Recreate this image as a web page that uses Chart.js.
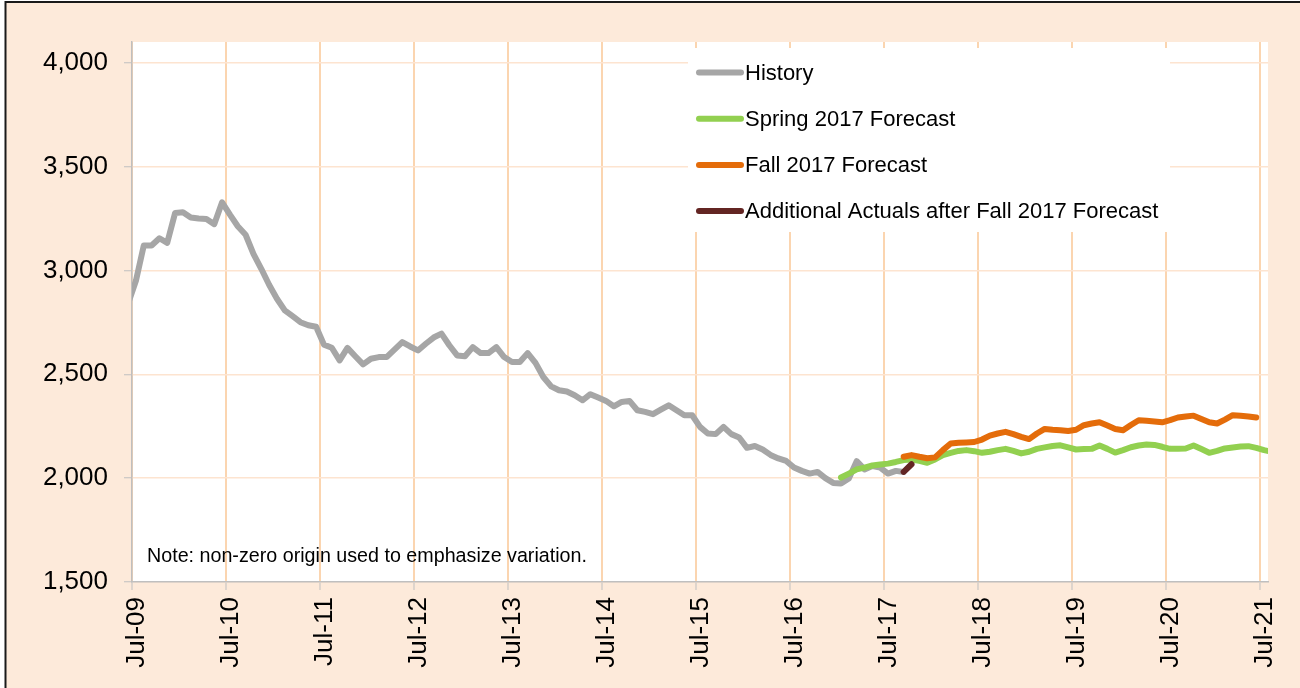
<!DOCTYPE html>
<html>
<head>
<meta charset="utf-8">
<script src="https://cdn.jsdelivr.net/npm/chart.js@4.4.1/dist/chart.umd.min.js"></script>
<style>
  html, body { margin: 0; padding: 0; background: #fff; }
  #wrap { width: 1300px; height: 688px; }
</style>
</head>
<body>
<div id="wrap"><canvas id="fig" width="1300" height="688"></canvas></div>
<script>
// x is counted in months from the start of Jul-09; each monthly value sits mid-month
const xTickLabels = ['Jul-09', 'Jul-10', 'Jul-11', 'Jul-12', 'Jul-13', 'Jul-14', 'Jul-15',
  'Jul-16', 'Jul-17', 'Jul-18', 'Jul-19', 'Jul-20', 'Jul-21'];
const yTicks = [1500, 2000, 2500, 3000, 3500, 4000];

const historyStart = 'Jun-09';
const historyValues = [
  2840, 2950, 3120, 3120, 3155, 3133, 3277, 3280, 3255, 3250, 3248, 3223, 3328,
  3269, 3213, 3172, 3080, 3008, 2931, 2864, 2808, 2780, 2751, 2736, 2729,
  2643, 2628, 2567, 2627, 2587, 2548, 2575, 2583, 2583, 2619, 2655, 2634,
  2615, 2647, 2677, 2696, 2640, 2591, 2587, 2631, 2602, 2602, 2631, 2583,
  2559, 2559, 2602, 2555, 2487, 2442, 2423, 2417, 2399, 2375, 2404, 2388,
  2372, 2346, 2367, 2372, 2327, 2319, 2308, 2330, 2351, 2327, 2303, 2303,
  2247, 2215, 2212, 2247, 2212, 2196, 2146, 2155, 2138, 2112, 2095, 2083,
  2051, 2035, 2022, 2030, 2000, 1977, 1974, 1998, 2082, 2042, 2058, 2051,
  2022, 2035, 2030
];

const spring2017Start = 'Jan-17';
const spring2017Values = [
  2003, 2022, 2042, 2051, 2061, 2066, 2070, 2078, 2087, 2090, 2083, 2074,
  2090, 2111, 2122, 2131, 2135, 2130, 2122, 2127, 2135, 2141, 2131, 2119,
  2127, 2141, 2148, 2155, 2158, 2148, 2138, 2140, 2141, 2157, 2141, 2123,
  2135, 2149, 2157, 2162, 2160, 2151, 2141, 2141, 2143, 2157, 2140, 2122,
  2131, 2143, 2148, 2152, 2154, 2146, 2135, 2127
];

const fall2017Start = 'Sep-17';
const fall2017Values = [
  2103, 2111, 2103, 2096, 2100, 2135, 2167, 2170, 2172, 2174,
  2186, 2205, 2215, 2223, 2212, 2199, 2188, 2215, 2237, 2233,
  2231, 2227, 2233, 2255, 2263, 2269, 2253, 2237, 2231, 2256,
  2279, 2276, 2273, 2269, 2279, 2292, 2297, 2301, 2285, 2269,
  2263, 2282, 2303, 2300, 2297, 2292
];

const actualsStart = 'Sep-17';
const actualsValues = [2030, 2067];

const noteText = 'Note: non-zero origin used to emphasize variation.';

const MONTHS = ['Jan', 'Feb', 'Mar', 'Apr', 'May', 'Jun', 'Jul', 'Aug', 'Sep', 'Oct', 'Nov', 'Dec'];
function monthIndex(label) {
  const [m, yy] = label.split('-');
  return (Number(yy) - 9) * 12 + MONTHS.indexOf(m) - 6;
}
function toPoints(start, values) {
  const s = monthIndex(start);
  return values.map((v, i) => ({ x: s + i + 0.5, y: v }));
}

const FONT = "'Liberation Sans', Arial, sans-serif";
Chart.defaults.font.family = FONT;
Chart.defaults.color = '#000';

// peach frame, black top/left edge and white plot area
const frame = {
  id: 'frame',
  beforeDraw(chart) {
    const { ctx, chartArea: a, width, height } = chart;
    ctx.save();
    ctx.fillStyle = '#fff';
    ctx.fillRect(0, 0, width, height);
    ctx.fillStyle = '#FDEADA';
    ctx.fillRect(6, 3, width, height);
    ctx.strokeStyle = '#1a1a1a';
    ctx.lineWidth = 2;
    ctx.beginPath();
    ctx.moveTo(5.5, height); ctx.lineTo(5.5, 2); ctx.lineTo(width, 2);
    ctx.stroke();
    ctx.fillStyle = '#fff';
    ctx.fillRect(a.left, a.top, a.right - a.left, a.bottom - a.top);
    ctx.restore();
  }
};

// legend box inside the plot, covering the grid; plus the note
const boxLegend = {
  id: 'boxLegend',
  beforeDatasetsDraw(chart) {
    const { ctx } = chart;
    ctx.save();
    ctx.fillStyle = '#fff';
    ctx.fillRect(688, 48, 482, 184);
    ctx.font = '22px ' + FONT;
    ctx.textBaseline = 'middle';
    ctx.lineCap = 'round';
    chart.data.datasets.forEach((ds, i) => {
      const y = 72.5 + i * 46.2;
      ctx.strokeStyle = ds.borderColor;
      ctx.lineWidth = 6;
      ctx.beginPath(); ctx.moveTo(699, y); ctx.lineTo(741, y); ctx.stroke();
      ctx.fillStyle = '#000';
      ctx.fillText(ds.label, 745, y + 1);
    });
    ctx.restore();
  },
  afterDatasetsDraw(chart) {
    const { ctx } = chart;
    ctx.save();
    ctx.font = '19.7px ' + FONT;
    ctx.fillStyle = '#000';
    ctx.textBaseline = 'middle';
    ctx.fillText(noteText, 147, 557);
    ctx.restore();
  }
};

new Chart(document.getElementById('fig'), {
  type: 'line',
  data: {
    datasets: [
      { label: 'History', data: toPoints(historyStart, historyValues), borderColor: '#A6A6A6', order: 4 },
      { label: 'Spring 2017 Forecast', data: toPoints(spring2017Start, spring2017Values), borderColor: '#92D050', order: 3 },
      { label: 'Fall 2017 Forecast', data: toPoints(fall2017Start, fall2017Values), borderColor: '#E46C0A', order: 2 },
      { label: 'Additional Actuals after Fall 2017 Forecast', data: toPoints(actualsStart, actualsValues), borderColor: '#632523', order: 1 }
    ]
  },
  options: {
    responsive: false,
    animation: false,
    events: [],
    layout: { padding: { left: 0, top: 42, right: 32, bottom: 0 } },
    elements: {
      point: { radius: 0 },
      line: { borderWidth: 6, tension: 0, borderCapStyle: 'round', borderJoinStyle: 'round', fill: false }
    },
    datasets: { line: { clip: 0 } },
    plugins: { legend: { display: false }, tooltip: { enabled: false } },
    scales: {
      x: {
        type: 'linear', min: 0, max: 145,
        afterBuildTicks: s => { s.ticks = xTickLabels.map((_, i) => ({ value: i * 12 })); },
        afterFit: s => { s.height = 106; s.paddingLeft = 0; s.paddingRight = 0; },
        ticks: { callback: (v, i) => xTickLabels[i], autoSkip: false, minRotation: 90, maxRotation: 90,
          font: { size: 26 }, color: '#000', padding: 7, labelOffset: 5 },
        grid: { color: '#FBD5B0', lineWidth: 2, tickColor: '#BFBFBF', tickLength: 8, tickWidth: 1 },
        border: { color: '#BFBFBF', width: 1.5 }
      },
      y: {
        min: 1500, max: 4100,
        afterBuildTicks: s => { s.ticks = yTicks.map(v => ({ value: v })); },
        afterFit: s => { s.width = 132; s.paddingTop = 0; s.paddingBottom = 0; },
        ticks: { callback: v => v.toLocaleString('en-US'), font: { size: 26 }, color: '#000', padding: 16 },
        grid: { color: '#FDE4D0', lineWidth: 1.5, tickColor: '#BFBFBF', tickLength: 8, tickWidth: 1 },
        border: { color: '#BFBFBF', width: 1.5 }
      }
    }
  },
  plugins: [frame, boxLegend]
});
</script>
</body>
</html>
